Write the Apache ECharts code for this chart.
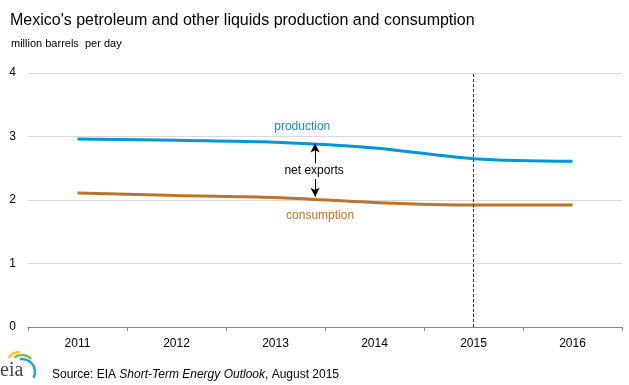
<!DOCTYPE html>
<html><head><meta charset="utf-8">
<script src="https://cdn.jsdelivr.net/npm/echarts@6/dist/echarts.min.js"></script>
<style>html,body{margin:0;padding:0;background:#fff}#c{width:629px;height:385px}</style>
</head><body><div id="c"></div>
<script>
const years = ['2011','2012','2013','2014','2015','2016'];
const yearValues = [2011, 2012, 2013, 2014, 2015, 2016];
const production = [2.96, 2.94, 2.91, 2.82, 2.65, 2.61];
const consumption = [2.11, 2.07, 2.04, 1.96, 1.92, 1.92];
const yTicks = [0, 1, 2, 3, 4];
const forecastStart = 2015;

const FONT = '"Liberation Sans", Arial, sans-serif';
const chart = echarts.init(document.getElementById('c'));
const pts = (vals) => yearValues.map((y, i) => [y, vals[i]]);

chart.setOption({
  animation: false,
  textStyle: { fontFamily: FONT },
  title: [
    { text: "Mexico's petroleum and other liquids production and consumption", left: 5, top: 8,
      textStyle: { fontFamily: FONT, fontSize: 16, fontWeight: 'normal', color: '#000' } },
    { text: 'million barrels  per day', left: 6, top: 33,
      textStyle: { fontFamily: FONT, fontSize: 11, fontWeight: 'normal', color: '#000' } },
    { text: 'Source: EIA {i|Short-Term Energy Outlook}, August 2015', left: 47, top: 364,
      textStyle: { fontFamily: FONT, fontSize: 12, fontWeight: 'normal', color: '#000',
        rich: { i: { fontFamily: FONT, fontSize: 12, fontStyle: 'italic', color: '#000' } } } }
  ],
  grid: { left: 28, right: 7, top: 73, bottom: 58 },
  xAxis: [
    { type: 'category', data: years, boundaryGap: true,
      axisLine: { lineStyle: { color: '#888' } },
      axisTick: { show: true, length: 4, lineStyle: { color: '#888' } },
      axisLabel: { color: '#000', fontSize: 12, margin: 11, fontFamily: FONT },
      splitLine: { show: false } },
    { type: 'value', min: 2010.5, max: 2016.5, show: false }
  ],
  yAxis: {
    type: 'value', min: 0, max: 4, interval: 1,
    axisLine: { show: false }, axisTick: { show: false },
    axisLabel: { color: '#000', fontSize: 12, margin: 12, fontFamily: FONT,
      formatter: v => yTicks.includes(v) ? String(v) : '' },
    splitLine: { lineStyle: { color: '#d9d9d9', width: 1 } }
  },
  series: [
    { name: 'production', type: 'line', xAxisIndex: 1, data: pts(production),
      smooth: 0.35, symbol: 'none', lineStyle: { color: '#0096d7', width: 3 },
      markLine: { silent: true, symbol: ['none', 'none'], label: { show: false },
        lineStyle: { color: '#333', type: [3, 2], width: 1 },
        data: [{ xAxis: forecastStart }] },
      markPoint: { symbol: 'circle', symbolSize: 0, silent: true,
        data: [
          { coord: [2013.27, 3.15], label: { show: true, formatter: 'production', color: '#0096d7', fontSize: 12, fontFamily: FONT } },
          { coord: [2013.39, 2.46], label: { show: true, formatter: 'net exports', color: '#000', fontSize: 12, fontFamily: FONT } },
          { coord: [2015.73, 4.21], label: { show: true, formatter: 'forecast', color: '#000', fontSize: 12, fontFamily: FONT } }
        ] } },
    { name: 'consumption', type: 'line', xAxisIndex: 1, data: pts(consumption),
      smooth: 0.35, symbol: 'none', lineStyle: { color: '#bd732a', width: 3 },
      markLine: { silent: true, symbol: ['none', 'arrow'], symbolSize: [7, 9], label: { show: false },
        lineStyle: { color: '#000', type: 'solid', width: 1 },
        data: [
          [{ coord: [2013.4, 2.58] }, { coord: [2013.4, 2.89] }],
          [{ coord: [2013.4, 2.33] }, { coord: [2013.4, 2.05] }]
        ] },
      markPoint: { symbol: 'circle', symbolSize: 0, silent: true,
        data: [
          { coord: [2013.45, 1.75], label: { show: true, formatter: 'consumption', color: '#bd732a', fontSize: 12, fontFamily: FONT } }
        ] } }
  ],
  graphic: [
    { type: 'arc', shape: { cx: 20, cy: 366, r: 14, startAngle: Math.PI * 1.2, endAngle: Math.PI * 1.5 },
      style: { stroke: '#f5c330', lineWidth: 2.5, fill: null } },
    { type: 'arc', shape: { cx: 22, cy: 368, r: 13, startAngle: Math.PI * 1.3, endAngle: Math.PI * 1.75 },
      style: { stroke: '#7cbf42', lineWidth: 2.5, fill: null } },
    { type: 'arc', shape: { cx: 22, cy: 372, r: 13, startAngle: Math.PI * 1.45, endAngle: Math.PI * 2.15 },
      style: { stroke: '#1fa1dc', lineWidth: 2.5, fill: null } },
    { type: 'text', left: 0, top: 361,
      style: { text: 'eia', font: '20px "Liberation Serif", serif', fill: '#3d4b59' } }
  ]
});
</script></body></html>
